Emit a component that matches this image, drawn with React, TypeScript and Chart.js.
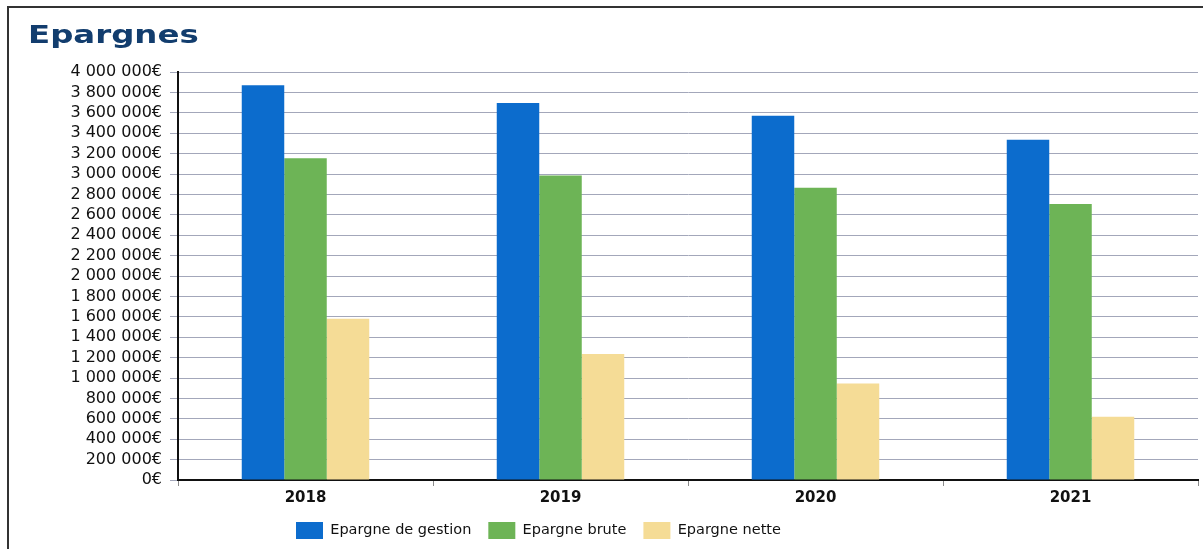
import React, { useEffect, useRef } from "react";
import { Chart, registerables } from "chart.js";

Chart.register(...registerables);

// Années
const years = ["2018", "2019", "2020", "2021"];

// Montants en euros
const epargneGestion = [3870000, 3695000, 3570000, 3335000];
const epargneBrute = [3155000, 2985000, 2865000, 2705000];
const epargneNette = [1580000, 1235000, 945000, 620000];

const seriesLabels = ["Epargne de gestion", "Epargne brute", "Epargne nette"];
const seriesColors = ["#0c6ccd", "#6db456", "#f5dc96"];

// Graduations de l'axe vertical
const yMin = 0;
const yMax = 4000000;
const yStep = 200000;

const formatEuro = (v: number) =>
  String(Math.round(v)).replace(/\B(?=(\d{3})+(?!\d))/g, " ") + "€";

// Décale la légende pour qu'elle commence à la position voulue
const legendOffset = {
  id: "legendOffset",
  afterLayout(chart: any) {
    const lg = chart.legend;
    if (lg) lg.left = 279;
  },
};

export default function App() {
  const canvasRef = useRef<HTMLCanvasElement | null>(null);

  useEffect(() => {
    if (!canvasRef.current) return;
    Chart.defaults.font.family = "'DejaVu Sans', sans-serif";
    const chart = new Chart(canvasRef.current, {
      type: "bar",
      data: {
        labels: years,
        datasets: [epargneGestion, epargneBrute, epargneNette].map((d, i) => ({
          label: seriesLabels[i],
          data: d,
          backgroundColor: seriesColors[i],
          borderWidth: 0,
          categoryPercentage: 0.5,
          barPercentage: 1.0,
        })),
      },
      options: {
        responsive: false,
        animation: false,
        layout: { padding: { top: 72, right: 5, bottom: 0, left: 0 } },
        plugins: {
          title: { display: false },
          tooltip: { enabled: false },
          legend: {
            position: "bottom",
            align: "start",
            labels: {
              boxWidth: 27,
              boxHeight: 17,
              padding: 17,
              color: "#111",
              font: { size: 14.5 },
            },
          },
        },
        scales: {
          x: {
            grid: {
              drawOnChartArea: false,
              drawTicks: true,
              tickLength: 6,
              color: "#8a8a8a",
            },
            border: { display: true, color: "#111", width: 2 },
            ticks: {
              color: "#111",
              padding: 3,
              font: { size: 15, weight: "bold" },
            },
            afterFit(scale: any) {
              scale.height = 25;
            },
          },
          y: {
            min: yMin,
            max: yMax,
            grid: {
              color: "#a3a7ba",
              lineWidth: 1,
              tickLength: 8,
            },
            border: { display: true, color: "#111", width: 2 },
            ticks: {
              stepSize: yStep,
              autoSkip: false,
              color: "#111",
              padding: 8,
              font: { size: 16 },
              callback: (v: any) => formatEuro(Number(v)),
            },
            afterFit(scale: any) {
              scale.width = 178;
            },
          },
        },
      },
      plugins: [legendOffset],
    });
    return () => chart.destroy();
  }, []);

  return (
    <div
      style={{
        position: "fixed",
        left: 0,
        top: 0,
        width: 1203,
        height: 549,
        background: "#fff",
        overflow: "hidden",
      }}
    >
      <canvas
        ref={canvasRef}
        width={1203}
        height={549}
        style={{ position: "absolute", left: 0, top: 0, display: "block" }}
      />
      <div
        style={{
          position: "absolute",
          left: 7,
          top: 6,
          right: -10,
          bottom: -10,
          borderTop: "2px solid #333",
          borderLeft: "2px solid #333",
          pointerEvents: "none",
        }}
      />
      <div
        style={{
          position: "absolute",
          left: 28,
          top: 21,
          fontFamily: "'DejaVu Sans', sans-serif",
          fontWeight: "bold",
          fontSize: 24,
          lineHeight: "28px",
          color: "#123d6e",
          transform: "scaleX(1.35)",
          transformOrigin: "left top",
          whiteSpace: "nowrap",
        }}
      >
        Epargnes
      </div>
    </div>
  );
}
